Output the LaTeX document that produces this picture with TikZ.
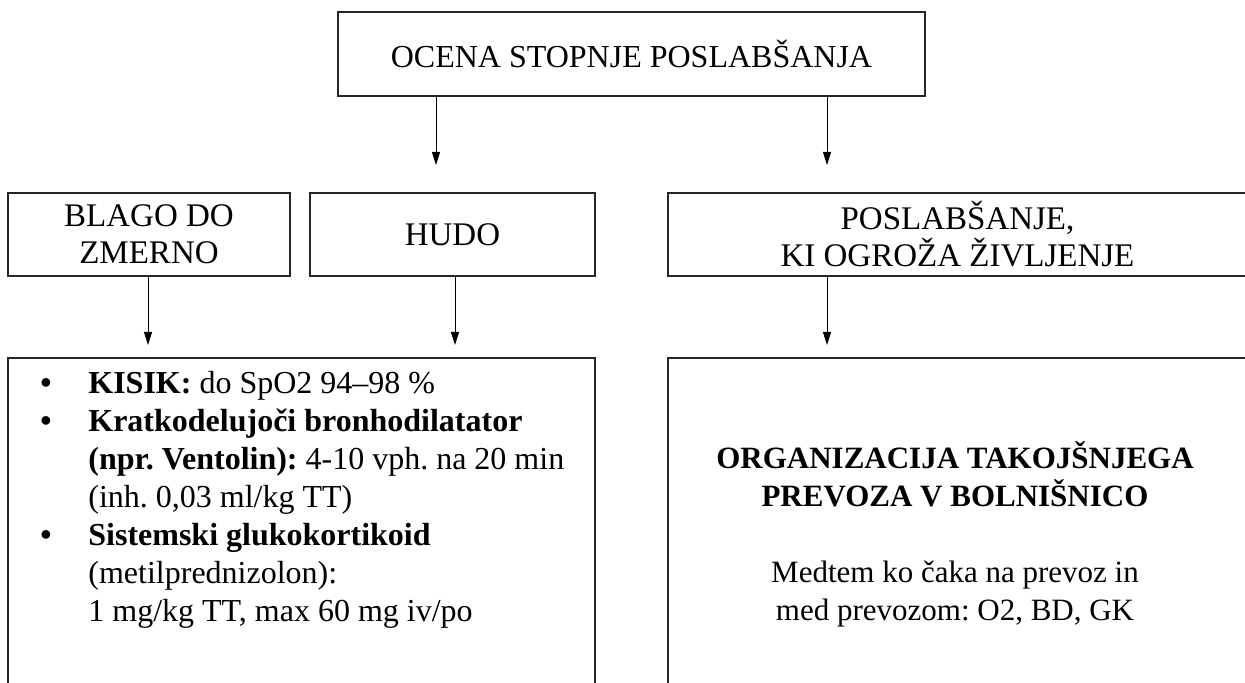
\documentclass[tikz,border=0pt]{standalone}
\usepackage{fontspec}
\setmainfont{Liberation Serif}
\usetikzlibrary{arrows.meta}
\frenchspacing
\begin{document}
\begin{tikzpicture}[x=0.5pt,y=-0.5pt,
  box/.style={draw=black!85,line width=0.7pt,rectangle,inner sep=0pt,align=center},
  arr/.style={draw=black,line width=0.5pt,-{Stealth[length=6.5pt,width=4pt,inset=0pt]}},
  toptext/.style={font=\fontsize{16}{19}\selectfont},
  midtext/.style={font=\fontsize{16.5}{18.5}\selectfont},
  bodytext/.style={font=\fontsize{15.5}{19}\selectfont},
  listtext/.style={font=\fontsize{16}{19}\selectfont}]
\useasboundingbox (0,0) rectangle (1245,683);
\clip (0,0) rectangle (1245,683);
% top box
\node[box,toptext,minimum width=293.5pt,minimum height=42pt] (top) at (631.5,54) {OCENA STOPNJE POSLABŠANJA};
% row 2
\node[box,midtext,minimum width=141pt,minimum height=41.5pt] (blago) at (149,234.5) {BLAGO DO\\ZMERNO};
\node[box,midtext,minimum width=142.5pt,minimum height=41.5pt] (hudo) at (452.5,234.5) {HUDO};
\node[box,midtext,minimum width=289.5pt,minimum height=41.5pt] (posl) at (957.5,234.5) {POSLABŠANJE,\\KI OGROŽA ŽIVLJENJE};
% bottom boxes
\node[box,minimum width=293.5pt,minimum height=171pt] (left) at (301.5,529) {};
\node[box,minimum width=289.5pt,minimum height=171pt] (right) at (957.5,529) {};
% text of bottom boxes
\node[listtext,anchor=north west,inner sep=0pt] (list) at (40,366) {%
\begin{tabular}{@{}p{24pt}@{}l@{}}
\textbf{\textbullet} & \textbf{KISIK:} do SpO2 94–98 \%\\
\textbf{\textbullet} & \textbf{Kratkodelujoči bronhodilatator}\\
 & \textbf{(npr. Ventolin):} 4-10 vph. na 20 min\\
 & (inh. 0,03 ml/kg TT)\\
\textbf{\textbullet} & \textbf{Sistemski glukokortikoid}\\
 & (metilprednizolon):\\
 & 1 mg/kg TT, max 60 mg iv/po
\end{tabular}};
\node[bodytext,align=center,inner sep=0pt] (org) at (955,534) {%
\textbf{ORGANIZACIJA TAKOJŠNJEGA}\\
\textbf{PREVOZA V BOLNIŠNICO}\\[19pt]
Medtem ko čaka na prevoz in\\
med prevozom: O2, BD, GK};
% arrow ends
\coordinate (e1) at (436,165);
\coordinate (e2) at (827,165);
\coordinate (f1) at (148,345);
\coordinate (f2) at (455,345);
\coordinate (f3) at (827,345);
\draw[arr] (top.south -| e1) -- (e1);
\draw[arr] (top.south -| e2) -- (e2);
\draw[arr] (blago.south -| f1) -- (f1);
\draw[arr] (hudo.south -| f2) -- (f2);
\draw[arr] (posl.south -| f3) -- (f3);
\end{tikzpicture}
\end{document}
